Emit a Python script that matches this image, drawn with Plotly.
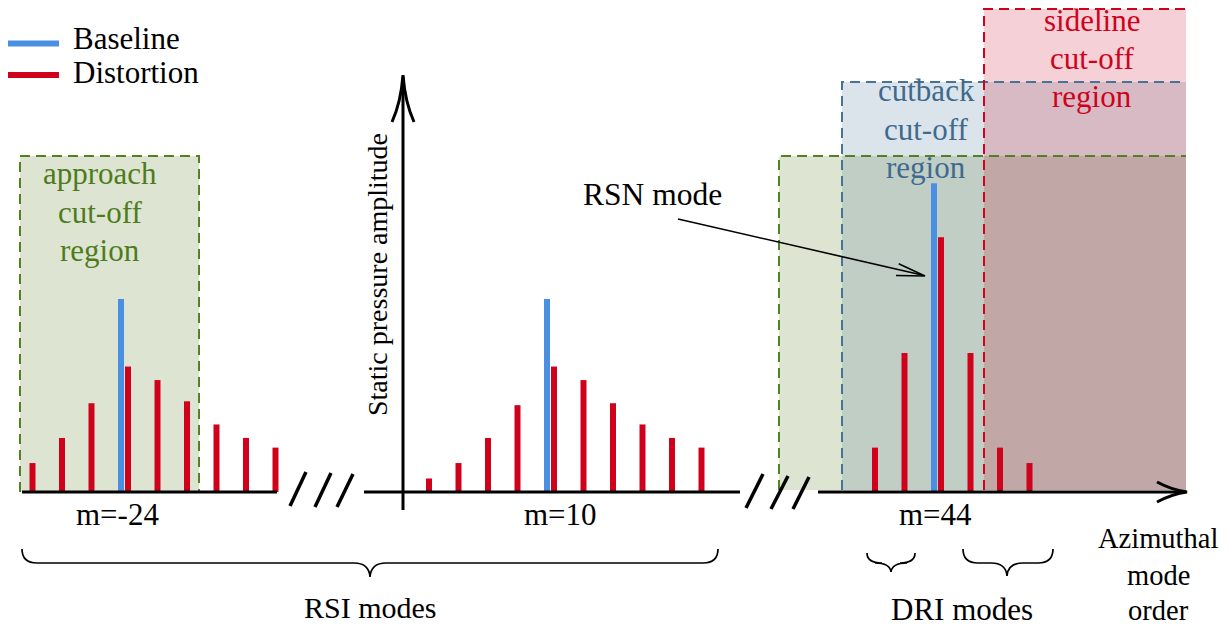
import plotly.graph_objects as go

W, H = 1229, 628

# ---------------------------------------------------------------- data
# Azimuthal mode order each group of bars is centred on
group_modes = [-24, 10, 44]
# Amplitude of the centre mode for clean (baseline) inflow
baseline_amp = [1.00, 1.00, 1.60]
# Distorted-inflow spectrum: mode offsets from the centre mode and amplitudes
dist_offsets = [
    [-3, -2, -1, 0, 1, 2, 3, 4, 5],
    [-4, -3, -2, -1, 0, 1, 2, 3, 4, 5],
    [-2, -1, 0, 1, 2, 3],
]
dist_amp = [
    [0.15, 0.28, 0.46, 0.65, 0.58, 0.47, 0.35, 0.28, 0.23],
    [0.07, 0.15, 0.28, 0.45, 0.65, 0.58, 0.46, 0.35, 0.28, 0.23],
    [0.23, 0.72, 1.32, 0.72, 0.23, 0.15],
]
series_names = ["Baseline", "Distortion"]
region_names = ["approach", "cutback", "sideline"]
group_names = ["RSI modes", "DRI modes"]

# ---------------------------------------------------------------- layout constants
GROUP_X = [121, 547, 934]     # horizontal position of each group's centre mode
SLOT = 29.5                   # spacing between neighbouring mode orders
PAIR_SHIFT = 7                # distortion bars sit just right of the baseline bar
BAR_W = 6
BASE_Y = 492                  # vertical position of the zero line
AMP_PX = 193                  # vertical size of one amplitude unit

BLUE = "rgb(74,144,226)"
RED = "rgb(208,2,27)"
GREEN_TXT = "rgb(78,124,28)"
BLUE_TXT = "rgb(62,106,142)"
FONT = "Liberation Serif"


def px(x):
    return x / W


def py(y):
    return 1 - y / H


def path(points, cmds=None):
    """Build an SVG path in paper units from a list of (x, y) positions."""
    out = []
    for i, (x, y) in enumerate(points):
        c = cmds[i] if cmds else ("M" if i == 0 else "L")
        out.append(f"{c} {px(x):.5f},{py(y):.5f}")
    return " ".join(out)


# ---------------------------------------------------------------- bars
base_x, base_y, dist_x, dist_y = [], [], [], []
for gx, amp, offs, amps in zip(GROUP_X, baseline_amp, dist_offsets, dist_amp):
    base_x.append(gx)
    base_y.append(amp)
    for o, a in zip(offs, amps):
        dist_x.append(gx + o * SLOT + (PAIR_SHIFT if o >= 0 else 0))
        dist_y.append(a)

fig = go.Figure()
fig.add_trace(go.Bar(x=dist_x, y=dist_y, width=BAR_W, name=series_names[1],
                     marker=dict(color=RED, line=dict(width=0)), hoverinfo="skip"))
fig.add_trace(go.Bar(x=base_x, y=base_y, width=BAR_W, name=series_names[0],
                     marker=dict(color=BLUE, line=dict(width=0)), hoverinfo="skip"))

shapes = []


def rect(x0, y0, x1, y1, fill):
    shapes.append(dict(type="rect", xref="paper", yref="paper", x0=px(x0), x1=px(x1),
                       y0=py(y1), y1=py(y0), fillcolor=fill, line=dict(width=0),
                       layer="below"))


def line(points, color, width, dash="solid", layer="above", cmds=None):
    shapes.append(dict(type="path", xref="paper", yref="paper", path=path(points, cmds),
                       line=dict(color=color, width=width, dash=dash),
                       fillcolor="rgba(0,0,0,0)", layer=layer))


# cut-off regions (translucent, overlapping)
rect(20, 156, 199, 492, "rgba(94,131,43,0.21)")
rect(779, 156, 1186, 490, "rgba(94,131,43,0.21)")
rect(842, 82, 1186, 490, "rgba(62,106,142,0.18)")
rect(984, 9, 1186, 490, "rgba(200,0,30,0.185)")
DASH = "10px,6px"
line([(20, 492), (20, 156), (199, 156), (199, 492)], "rgb(84,130,34)", 2, DASH, "below")
line([(779, 490), (779, 156), (1186, 156)], "rgb(84,130,34)", 2, DASH, "below")
line([(842, 490), (842, 82), (1186, 82)], "rgb(74,114,150)", 2, DASH, "below")
line([(984, 490), (984, 9), (1186, 9)], RED, 2, DASH, "below")

# broken mode-order axis
line([(22, BASE_Y), (277, BASE_Y)], "black", 3)
line([(364, BASE_Y), (740, BASE_Y)], "black", 3)
line([(818, BASE_Y), (1184, BASE_Y)], "black", 3)
line([(1157, 482), (1172, 490), (1187, 492), (1172, 494), (1157, 502)], "black", 3,
     cmds=["M", "Q", "", "Q", ""])
for seg in [((290, 506), (306, 472)), ((315, 507), (331, 473)), ((337, 507), (353, 474)),
            ((746, 508), (763, 474)), ((771, 509), (788, 476)), ((793, 509), (809, 477))]:
    line(list(seg), "black", 3.5)

# amplitude axis with arrow head
line([(403, 510), (403, 77)], "black", 3)
line([(392, 122), (401, 102), (403, 75), (405, 102), (414, 122)], "black", 3,
     cmds=["M", "Q", "", "Q", ""])

# pointer to the rotor-stator noise mode
line([(678, 219), (922, 275)], "black", 1.6)
line([(898.7, 263.7), (925, 276), (896, 275.5)], "black", 1.6)

# legend swatches
line([(8, 43.5), (59, 43.5)], BLUE, 6)
line([(8, 75), (59, 75)], RED, 6)


def brace(x0, x1, xm, ytop, ymid, ytip):
    pts = [(x0, ytop), (x0, ymid), (x0 + 15, ymid), (xm - 16, ymid), (xm - 1, ymid), (xm, ytip),
           (xm + 1, ymid), (xm + 16, ymid), (x1 - 15, ymid), (x1, ymid), (x1, ytop)]
    cmds = ["M", "Q", "", "L", "Q", "", "Q", "", "L", "Q", ""]
    line(pts, "black", 1.7, cmds=cmds)


brace(22, 718, 370, 549, 563, 577)
brace(867, 915, 891, 553, 563, 572)
brace(963, 1053, 1007, 549, 563, 576)

# ---------------------------------------------------------------- text
annotations = []


def label(text, x, baseline, size, color="black", xanchor="center", angle=0, y=None):
    yc = y if y is not None else baseline - 0.3375 * size
    annotations.append(dict(text=text, x=px(x), y=py(yc), xref="paper", yref="paper",
                            showarrow=False, xanchor=xanchor, yanchor="middle",
                            textangle=angle,
                            font=dict(family=FONT, size=size, color=color)))


label(series_names[0], 71, 49, 31, xanchor="left")
label(series_names[1], 71, 83, 31, xanchor="left")

for txt, b in zip([region_names[0], "cut-off", "region"], [184, 222.5, 261]):
    label(txt, 99.5, b, 31, GREEN_TXT)
for txt, b in zip([region_names[1], "cut-off", "region"], [101, 139.5, 178]):
    label(txt, 926, b, 31, BLUE_TXT)
for txt, b in zip([region_names[2], "cut-off", "region"], [31, 69, 107]):
    label(txt, 1092, b, 31, RED)

label("RSN mode", 652.5, 205, 31.5)
label("Static pressure amplitude", 377.5, None, 28, angle=-90, y=274.5)

for m, x in zip(group_modes, [118, 560, 935]):
    label(f"m={m}", x, 525, 31)

label(group_names[0], 370, 618, 30)
label(group_names[1], 962, 620, 31)
for txt, b in zip(["Azimuthal", "mode", "order"], [548, 585, 620]):
    label(txt, 1158, b, 28.5)

fig.update_layout(
    width=W, height=H,
    margin=dict(l=0, r=0, t=0, b=0, pad=0),
    paper_bgcolor="white", plot_bgcolor="white",
    showlegend=False, barmode="overlay",
    xaxis=dict(range=[0, W], visible=False, fixedrange=True),
    yaxis=dict(range=[-(H - BASE_Y) / AMP_PX, BASE_Y / AMP_PX], visible=False,
               fixedrange=True),
    shapes=shapes,
    annotations=annotations,
)

fig.write_html("out.html", config={"displayModeBar": False})
